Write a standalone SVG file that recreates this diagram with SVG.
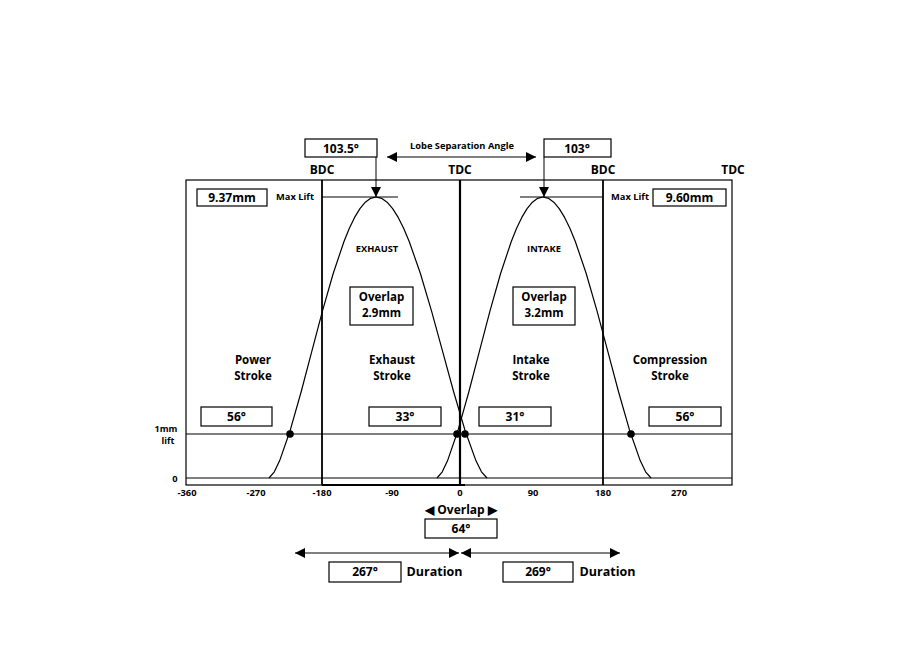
<svg xmlns="http://www.w3.org/2000/svg" width="900" height="645" viewBox="0 0 900 645">
<style>
text{font-family:"Open Sans","Liberation Sans",sans-serif;font-weight:700;fill:#000;text-anchor:middle}
.s8{font-size:9.3px}.s11{font-size:12px}.s12{font-size:12.5px}.m{font-size:11.5px}.sm{font-size:9px}
.box{fill:#fff;stroke:#000;stroke-width:1.2}
.thin{stroke:#000;stroke-width:1;fill:none}
.vl{stroke:#000;stroke-width:1.8;fill:none}
.curve{stroke:#000;stroke-width:1.2;fill:none;stroke-linejoin:round}
.dot{fill:#000}
</style>
<defs>
<marker id="ah" viewBox="0 0 10 10" refX="10" refY="5" markerWidth="10" markerHeight="10" markerUnits="userSpaceOnUse" orient="auto-start-reverse"><path d="M0,0 L10,5 L0,10 z" fill="#000"/></marker>
</defs>
<rect width="900" height="645" fill="#fff"/>
<g id="frame">
<rect x="186" y="180" width="546" height="305" fill="none" stroke="#000" stroke-width="1.2"/>
<line class="thin" x1="186" y1="434" x2="732" y2="434"/>
<line class="thin" x1="186" y1="478" x2="732" y2="478"/>
<line x1="322" y1="485" x2="465" y2="485" stroke="#000" stroke-width="2"/>
<line class="vl" x1="322" y1="180" x2="322" y2="485"/>
<line x1="460" y1="180" x2="460" y2="485" stroke="#000" stroke-width="2.2"/>
<line class="vl" x1="603" y1="180" x2="603" y2="485"/>
</g>
<g id="axis-labels">
<text class="s11" x="322" y="174">BDC</text>
<text class="s11" x="460" y="174">TDC</text>
<text class="s11" x="603" y="174">BDC</text>
<text class="s11" x="733" y="174">TDC</text>
<text class="s8" x="187" y="496">-360</text>
<text class="s8" x="256" y="496">-270</text>
<text class="s8" x="322" y="496">-180</text>
<text class="s8" x="392" y="496">-90</text>
<text class="s8" x="460" y="496">0</text>
<text class="s8" x="533" y="496">90</text>
<text class="s8" x="603" y="496">180</text>
<text class="s8" x="679" y="496">270</text>
<text class="sm" x="166" y="432">1mm</text>
<text class="sm" x="168" y="444">lift</text>
<text class="s8" x="175" y="482">0</text>
</g>
<g id="connectors">
<polyline class="curve" points="269,478 274.35,471.8 279.7,460.6 290.4,429.7 301.1,392 311.8,351.4 322.5,310.9 333.2,273.5 343.9,241.7 349.25,228.5 354.6,217.4 359.95,208.6 365.3,202.2 370.65,198.3 376,197 381.55,198.3 387.1,202.2 392.65,208.6 398.2,217.4 403.75,228.5 409.3,241.7 420.4,273.5 431.5,310.9 442.6,351.4 453.7,392 464.8,429.7 475.9,460.6 481.45,471.8 487,478"/>
<polyline class="curve" points="437,478 442.3,471.8 447.6,460.6 458.2,429.7 468.8,392 479.4,351.4 490,310.9 500.6,273.5 511.2,241.7 516.5,228.5 521.8,217.4 527.1,208.6 532.4,202.2 537.7,198.3 543,197 548.4,198.3 553.8,202.2 559.2,208.6 564.6,217.4 570,228.5 575.4,241.7 586.2,273.5 597,310.9 607.8,351.4 618.6,392 629.4,429.7 640.2,460.6 645.6,471.8 651,478"/>
<line class="thin" x1="322" y1="197" x2="398" y2="197"/>
<line class="thin" x1="520" y1="197" x2="603" y2="197"/>
<line class="thin" x1="376" y1="157" x2="376" y2="197" marker-end="url(#ah)"/>
<line class="thin" x1="544" y1="157" x2="544" y2="197" marker-end="url(#ah)"/>
<line class="thin" x1="387" y1="157" x2="536" y2="157" marker-start="url(#ah)" marker-end="url(#ah)"/>
<line class="thin" x1="295" y1="553" x2="459" y2="553" marker-start="url(#ah)" marker-end="url(#ah)"/>
<line class="thin" x1="461" y1="553" x2="620" y2="553" marker-start="url(#ah)" marker-end="url(#ah)"/>
<circle class="dot" cx="290" cy="434" r="3.8"/>
<circle class="dot" cx="457" cy="434" r="3.8"/>
<circle class="dot" cx="465" cy="434" r="3.8"/>
<circle class="dot" cx="631" cy="434" r="3.8"/>
</g>
<g id="lsa">
<text class="s8" x="462" y="149">Lobe Separation Angle</text>
</g>
<g id="exh-angle">
<rect class="box" x="305" y="139" width="72" height="18"/>
<text class="s11" x="341" y="152.5">103.5°</text>
</g>
<g id="int-angle">
<rect class="box" x="544" y="139" width="67" height="18"/>
<text class="s11" x="577" y="152.5">103°</text>
</g>
<g id="exh-lift">
<rect class="box" x="197" y="189" width="70" height="17"/>
<text class="s11" x="232" y="201.8">9.37mm</text>
<text class="s8" x="295" y="200">Max Lift</text>
</g>
<g id="int-lift">
<rect class="box" x="653" y="189" width="73" height="17"/>
<text class="s11" x="689.5" y="201.8">9.60mm</text>
<text class="s8" x="630" y="200">Max Lift</text>
</g>
<g id="exhaust-label"><text class="s8" x="377" y="252">EXHAUST</text></g>
<g id="intake-label"><text class="s8" x="544" y="252">INTAKE</text></g>
<g id="exh-overlap">
<rect class="box" x="350" y="287" width="63" height="38"/>
<text class="m" x="381.5" y="301">Overlap</text>
<text class="m" x="381.5" y="317">2.9mm</text>
</g>
<g id="int-overlap">
<rect class="box" x="513" y="287" width="62" height="38"/>
<text class="m" x="544" y="301">Overlap</text>
<text class="m" x="544" y="317">3.2mm</text>
</g>
<g id="strokes">
<text class="m" x="253" y="364">Power</text>
<text class="m" x="253" y="380">Stroke</text>
<text class="m" x="392" y="364">Exhaust</text>
<text class="m" x="392" y="380">Stroke</text>
<text class="m" x="531" y="364">Intake</text>
<text class="m" x="531" y="380">Stroke</text>
<text class="m" x="670" y="364">Compression</text>
<text class="m" x="670" y="380">Stroke</text>
</g>
<g id="deg-boxes">
<rect class="box" x="201" y="407" width="71" height="19"/>
<text class="s11" x="236.5" y="420.5">56°</text>
<rect class="box" x="369" y="407" width="72" height="19"/>
<text class="s11" x="405" y="420.5">33°</text>
<rect class="box" x="479" y="407" width="72" height="19"/>
<text class="s11" x="515" y="420.5">31°</text>
<rect class="box" x="649" y="407" width="72" height="19"/>
<text class="s11" x="685" y="420.5">56°</text>
</g>
<g id="overlap">
<text class="s11" x="461" y="513.5">◀ Overlap ▶</text>
<rect class="box" x="425" y="519" width="72" height="19"/>
<text class="s11" x="461" y="532.5">64°</text>
</g>
<g id="exh-duration">
<rect class="box" x="329" y="562" width="72" height="20"/>
<text class="s11" x="365" y="576">267°</text>
<text class="s12" x="434.5" y="576">Duration</text>
</g>
<g id="int-duration">
<rect class="box" x="503" y="562" width="70" height="20"/>
<text class="s11" x="538" y="576">269°</text>
<text class="s12" x="607.5" y="576">Duration</text>
</g>
</svg>
